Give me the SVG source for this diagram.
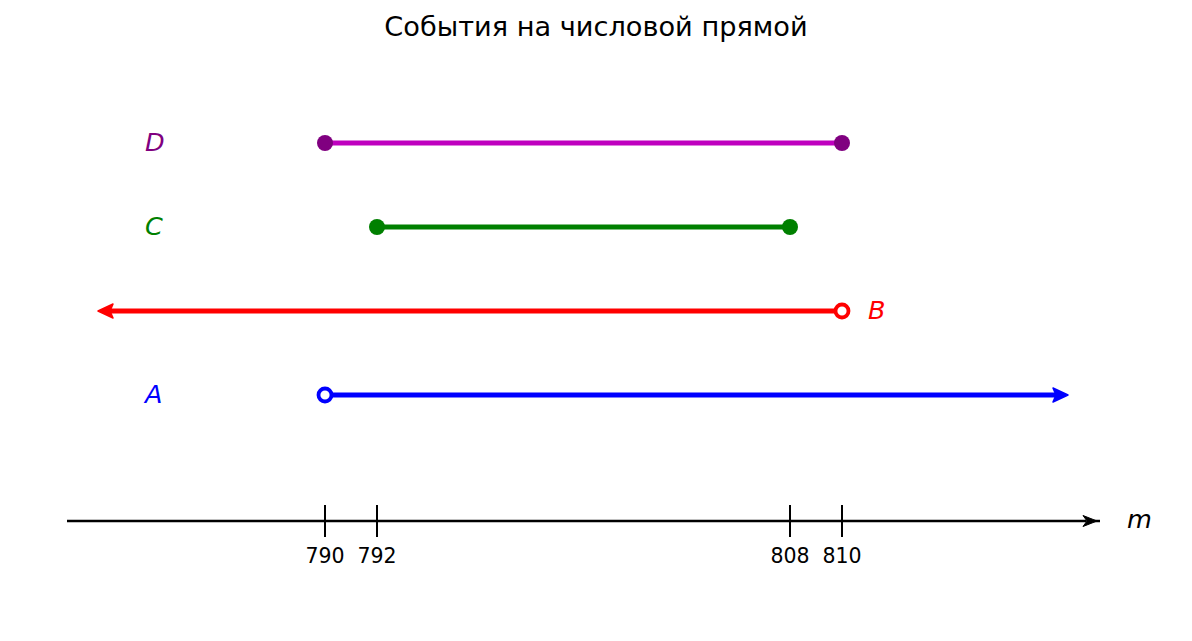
<svg xmlns="http://www.w3.org/2000/svg" width="1192" height="641" viewBox="0 0 1192 641">
<style>
  text { font-family: "DejaVu Sans", sans-serif; }
  .title { font-size: 27.2px; fill: #000; }
  .tick { font-size: 20.5px; fill: #000; text-anchor: middle; }
  .lbl { font-size: 25.5px; font-style: italic; }
  .seg { stroke-width: 5; fill: none; }
  .axis { stroke: #000; stroke-width: 2.5; fill: none; }
  .tk { stroke: #000; stroke-width: 2; }
</style>
<rect width="1192" height="641" fill="#fff"/>
<text class="title" x="596" y="36" text-anchor="middle">События на числовой прямой</text>

<g id="axis">
  <line class="axis" x1="67" y1="521" x2="1086" y2="521"/>
  <line class="axis" x1="1094" y1="521" x2="1100" y2="521"/>
  <path d="M1097,521 L1083,515.5 L1087,521 L1083,526.5 Z" fill="#000" stroke="#000" stroke-width="1" stroke-linejoin="miter"/>
  <line class="tk" x1="325" y1="505" x2="325" y2="537"/>
  <line class="tk" x1="377" y1="505" x2="377" y2="537"/>
  <line class="tk" x1="790" y1="505" x2="790" y2="537"/>
  <line class="tk" x1="842" y1="505" x2="842" y2="537"/>
  <text class="tick" x="325" y="563">790</text>
  <text class="tick" x="377" y="563">792</text>
  <text class="tick" x="790" y="563">808</text>
  <text class="tick" x="842" y="563">810</text>
  <text class="lbl" x="1127" y="528" fill="#000">m</text>
</g>

<g id="connectors">
  <g id="D">
    <line class="seg" stroke="#bf00bf" x1="325" y1="143" x2="842" y2="143"/>
    <circle cx="325" cy="143" r="8" fill="#800080"/>
    <circle cx="842" cy="143" r="8" fill="#800080"/>
    <text class="lbl" x="145" y="151" fill="#800080">D</text>
  </g>
  <g id="C">
    <line class="seg" stroke="#008000" x1="377" y1="227" x2="790" y2="227"/>
    <circle cx="377" cy="227" r="8" fill="#008000"/>
    <circle cx="790" cy="227" r="8" fill="#008000"/>
    <text class="lbl" x="145" y="235" fill="#008000">C</text>
  </g>
  <g id="B">
    <line class="seg" stroke="#ff0000" x1="110" y1="311" x2="836" y2="311"/>
    <path d="M98,311 L113,304 L110,311 L113,318 Z" fill="#ff0000" stroke="#ff0000" stroke-width="1.5" stroke-linejoin="round"/>
    <circle cx="842" cy="311" r="6.5" fill="#fff" stroke="#ff0000" stroke-width="3.8"/>
    <text class="lbl" x="868" y="319" fill="#ff0000">B</text>
  </g>
  <g id="A">
    <line class="seg" stroke="#0000ff" x1="331" y1="395" x2="1056" y2="395"/>
    <path d="M1068,395 L1053,388 L1056,395 L1053,402 Z" fill="#0000ff" stroke="#0000ff" stroke-width="1.5" stroke-linejoin="round"/>
    <circle cx="325" cy="395" r="6.5" fill="#fff" stroke="#0000ff" stroke-width="3.8"/>
    <text class="lbl" x="145" y="403" fill="#0000ff">A</text>
  </g>
</g>
</svg>
